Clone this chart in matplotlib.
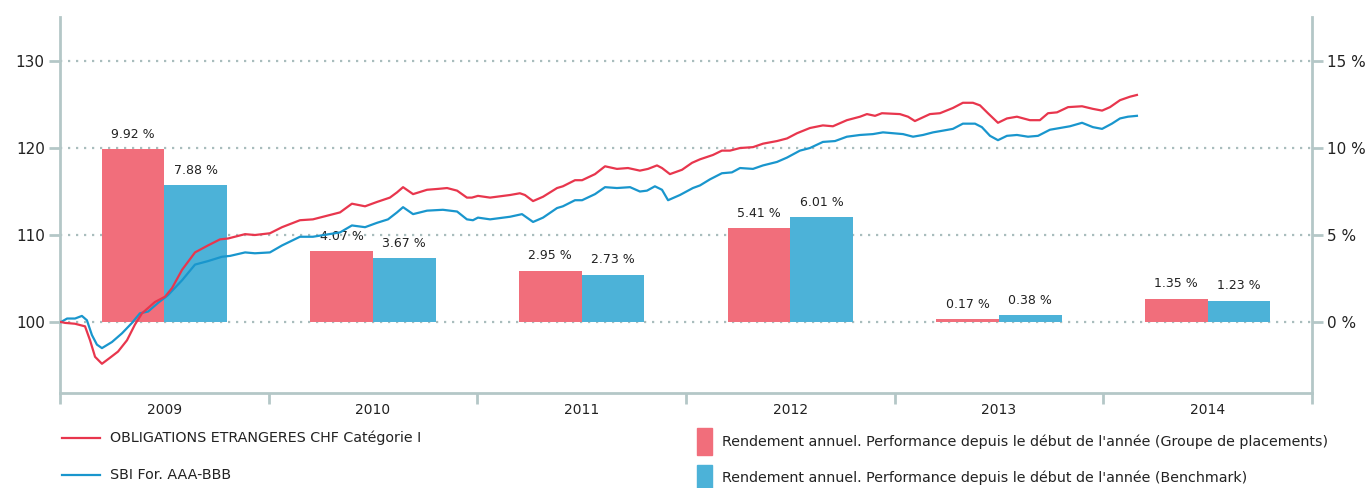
import matplotlib
matplotlib.use("Agg")
import matplotlib.pyplot as plt
from matplotlib.lines import Line2D
from matplotlib.patches import Rectangle
import numpy as np

plt.rcParams['font.family'] = ['DejaVu Sans']

# years shown on the x axis and annual returns (in %) per year
years = [2009, 2010, 2011, 2012, 2013, 2014]
fund_returns = [9.92, 4.07, 2.95, 5.41, 0.17, 1.35]
bench_returns = [7.88, 3.67, 2.73, 6.01, 0.38, 1.23]

# indexed performance (start = 100), time given as years after 2009-01-01
fund_t = [0.005, 0.024, 0.072, 0.120, 0.144, 0.168, 0.201, 0.240, 0.278, 0.321,
          0.359, 0.393, 0.455, 0.503, 0.537, 0.585, 0.647, 0.709, 0.767, 0.805,
          0.887, 0.934, 1.006, 1.064, 1.150, 1.212, 1.342, 1.399, 1.462, 1.519,
          1.581, 1.615, 1.644, 1.692, 1.759, 1.811, 1.855, 1.903, 1.950, 1.974,
          2.003, 2.061, 2.157, 2.204, 2.228, 2.267, 2.315, 2.382, 2.410, 2.468,
          2.502, 2.564, 2.612, 2.669, 2.722, 2.779, 2.818, 2.861, 2.885, 2.923,
          2.981, 3.029, 3.067, 3.129, 3.172, 3.211, 3.259, 3.321, 3.369, 3.436,
          3.484, 3.532, 3.594, 3.656, 3.704, 3.771, 3.834, 3.867, 3.906, 3.939,
          4.025, 4.064, 4.097, 4.169, 4.217, 4.279, 4.327, 4.375, 4.409, 4.447,
          4.495, 4.538, 4.586, 4.648, 4.696, 4.735, 4.778, 4.831, 4.898, 4.950,
          4.994, 5.032, 5.080, 5.128, 5.161]
fund_idx = [100.0, 99.9, 99.8, 99.5, 97.9, 96.0, 95.2, 95.9, 96.6, 97.9,
            99.7, 101.0, 102.3, 102.9, 103.9, 106.0, 108.0, 108.8, 109.5, 109.6,
            110.1, 110.0, 110.2, 110.9, 111.7, 111.8, 112.6, 113.6, 113.3, 113.8,
            114.3, 114.9, 115.5, 114.7, 115.2, 115.3, 115.4, 115.1, 114.3, 114.3,
            114.5, 114.3, 114.6, 114.8, 114.6, 113.9, 114.4, 115.4, 115.6, 116.3,
            116.3, 117.0, 117.9, 117.6, 117.7, 117.4, 117.6, 118.0, 117.7, 117.0,
            117.5, 118.3, 118.7, 119.2, 119.7, 119.7, 120.0, 120.1, 120.5, 120.8,
            121.1, 121.7, 122.3, 122.6, 122.5, 123.2, 123.6, 123.9, 123.7, 124.0,
            123.9, 123.6, 123.1, 123.9, 124.0, 124.6, 125.2, 125.2, 124.9, 124.0,
            122.9, 123.4, 123.6, 123.2, 123.2, 124.0, 124.1, 124.7, 124.8, 124.5,
            124.3, 124.7, 125.5, 125.9, 126.1]

bench_t = [0.005, 0.034, 0.072, 0.105, 0.129, 0.153, 0.177, 0.201, 0.249, 0.297,
           0.345, 0.383, 0.422, 0.470, 0.518, 0.585, 0.647, 0.709, 0.776, 0.815,
           0.887, 0.934, 1.006, 1.064, 1.150, 1.212, 1.342, 1.399, 1.462, 1.519,
           1.572, 1.615, 1.644, 1.692, 1.759, 1.835, 1.903, 1.950, 1.979, 2.003,
           2.061, 2.157, 2.214, 2.267, 2.315, 2.382, 2.410, 2.468, 2.502, 2.564,
           2.612, 2.669, 2.732, 2.779, 2.813, 2.851, 2.885, 2.914, 2.971, 3.033,
           3.067, 3.115, 3.172, 3.220, 3.259, 3.321, 3.369, 3.436, 3.484, 3.546,
           3.594, 3.656, 3.714, 3.771, 3.834, 3.896, 3.944, 3.992, 4.040, 4.088,
           4.136, 4.184, 4.232, 4.279, 4.327, 4.385, 4.418, 4.457, 4.495, 4.538,
           4.586, 4.639, 4.687, 4.744, 4.792, 4.840, 4.898, 4.950, 4.994, 5.041,
           5.080, 5.118, 5.161]
bench_idx = [100.0, 100.4, 100.4, 100.7, 100.2, 98.5, 97.4, 97.0, 97.7, 98.7,
             99.9, 101.0, 101.2, 102.2, 103.1, 104.8, 106.6, 107.0, 107.5, 107.6,
             108.0, 107.9, 108.0, 108.8, 109.8, 109.8, 110.3, 111.1, 110.9, 111.4,
             111.8, 112.6, 113.2, 112.4, 112.8, 112.9, 112.7, 111.8, 111.7, 112.0,
             111.8, 112.1, 112.4, 111.5, 112.0, 113.1, 113.3, 114.0, 114.0, 114.7,
             115.5, 115.4, 115.5, 115.0, 115.1, 115.6, 115.2, 114.0, 114.6, 115.4,
             115.7, 116.4, 117.1, 117.2, 117.7, 117.6, 118.0, 118.4, 118.9, 119.7,
             120.0, 120.7, 120.8, 121.3, 121.5, 121.6, 121.8, 121.7, 121.6, 121.3,
             121.5, 121.8, 122.0, 122.2, 122.8, 122.8, 122.4, 121.4, 120.9, 121.4,
             121.5, 121.3, 121.4, 122.1, 122.3, 122.5, 122.9, 122.4, 122.2, 122.8,
             123.4, 123.6, 123.7]

fund_label = "OBLIGATIONS ETRANGERES CHF Catégorie I"
bench_label = "SBI For. AAA-BBB"
bar_fund_label = "Rendement annuel. Performance depuis le début de l'année (Groupe de placements)"
bar_bench_label = "Rendement annuel. Performance depuis le début de l'année (Benchmark)"

red_line = '#e8364d'
blue_line = '#1996cd'
red_bar = '#f16e7b'
blue_bar = '#4cb2d8'
axis_grey = '#b4c7c7'
txt = '#222222'

W, H = 1369, 488
fig = plt.figure(figsize=(W / 100, H / 100), dpi=100)
ax = fig.add_axes([60 / W, 1 - 393 / H, (1312 - 60) / W, (393 - 17) / H])

# bars on the % scale (right axis)
centers = np.array(years) + 0.5
bw = 0.3
ax.bar(centers - bw / 2, fund_returns, width=bw, color=red_bar, zorder=2)
ax.bar(centers + bw / 2, bench_returns, width=bw, color=blue_bar, zorder=2)
for c, f, b in zip(centers, fund_returns, bench_returns):
    ax.annotate(f"{f:.2f} %", (c - bw / 2, f), xytext=(0, 6), textcoords='offset points',
                ha='center', va='bottom', fontsize=9, color=txt, zorder=5)
    ax.annotate(f"{b:.2f} %", (c + bw / 2, b), xytext=(0, 6), textcoords='offset points',
                ha='center', va='bottom', fontsize=9, color=txt, zorder=5)

idx_lo, idx_hi = 91.84, 135.06
ax.set_ylim((idx_lo - 100) / 2, (idx_hi - 100) / 2)
ax.set_xlim(2009, 2015)
ax.set_yticks([0, 5, 10, 15])
ax.set_yticklabels(['0 %', '5 %', '10 %', '15 %'])
ax.grid(axis='y', color='#a9bdbd', linestyle=(0, (1, 2.6)), linewidth=1.6)
ax.set_axisbelow(True)

# index lines on the left axis
ax2 = ax.twinx()
ax2.plot(2009 + np.array(bench_t), bench_idx, color=blue_line, lw=1.6, zorder=3)
ax2.plot(2009 + np.array(fund_t), fund_idx, color=red_line, lw=1.6, zorder=4)
ax2.set_ylim(idx_lo, idx_hi)
ax2.set_yticks([100, 110, 120, 130])

ax.yaxis.tick_right()
ax2.yaxis.tick_left()

for s in ax2.spines.values():
    s.set_visible(False)
ax.spines['top'].set_visible(False)
for side in ['left', 'right', 'bottom']:
    ax.spines[side].set_color(axis_grey)
    ax.spines[side].set_linewidth(2)

ax.tick_params(axis='y', colors=axis_grey, labelcolor=txt, length=8, width=2,
               labelsize=11, pad=3)
ax2.tick_params(axis='y', colors=axis_grey, labelcolor=txt, length=8, width=2,
                labelsize=11, pad=3)

# year boundaries as ticks, year names centred between them
ax.set_xticks(list(years) + [years[-1] + 1])
ax.set_xticklabels([])
ax.set_xticks(centers, minor=True)
ax.set_xticklabels([str(y) for y in years], minor=True)
ax.tick_params(axis='x', which='major', colors=axis_grey, length=8, width=2)
ax.tick_params(axis='x', which='minor', length=0, labelsize=10, labelcolor=txt, pad=7)

# legend drawn below the plot
def fx(x):
    return x / W


def fy(y):
    return 1 - y / H


fig.add_artist(Line2D([fx(62), fx(100)], [fy(438), fy(438)], color=red_line, lw=1.6))
fig.add_artist(Line2D([fx(62), fx(100)], [fy(475), fy(475)], color=blue_line, lw=1.6))
fig.text(fx(110), fy(438), fund_label, fontsize=10.3, color=txt, va='center')
fig.text(fx(110), fy(475), bench_label, fontsize=10.3, color=txt, va='center')

fig.add_artist(Rectangle((fx(697), fy(455)), fx(15), 27 / H, color=red_bar))
fig.add_artist(Rectangle((fx(697), fy(492)), fx(15), 27 / H, color=blue_bar))
fig.text(fx(722), fy(442), bar_fund_label, fontsize=10.3, color=txt, va='center')
fig.text(fx(722), fy(478), bar_bench_label, fontsize=10.3, color=txt, va='center')

fig.savefig('out.png', dpi=100)
